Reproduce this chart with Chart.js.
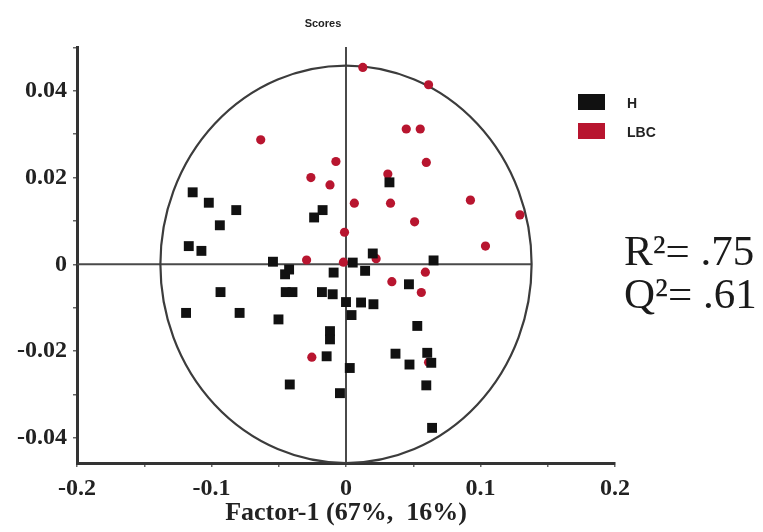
<!DOCTYPE html>
<html><head><meta charset="utf-8">
<script src="https://cdn.jsdelivr.net/npm/chart.js@4"></script>
<style>html,body{margin:0;padding:0;background:#fff}</style>
</head><body>
<canvas id="c" width="763" height="532"></canvas>
<script>
// ---- data ----
const seriesNames = ['H', 'LBC'];
const hX = [-0.1140,-0.1020,-0.0816,-0.0938,-0.1169,-0.1075,-0.0174,-0.0237,-0.0543,-0.0423,-0.0453,-0.0092,-0.0933,-0.0448,-0.0398,-0.0179,-0.0099,0.0000,0.0041,-0.1189,-0.0791,-0.0502,-0.0119,-0.0119,-0.0144,0.0028,-0.0418,-0.0045,0.0323,0.0199,0.0651,0.0050,0.0142,0.0468,0.0112,0.0204,0.0530,0.0368,0.0604,0.0472,0.0634,0.0597,0.0640];
const hY = [0.0166,0.0142,0.0125,0.0090,0.0042,0.0031,0.0125,0.0108,0.0006,-0.0012,-0.0023,-0.0019,-0.0064,-0.0064,-0.0064,-0.0064,-0.0069,-0.0087,-0.0117,-0.0112,-0.0112,-0.0127,-0.0154,-0.0173,-0.0212,-0.0239,-0.0277,-0.0297,0.0189,0.0025,0.0009,0.0004,-0.0015,-0.0046,-0.0088,-0.0092,-0.0142,-0.0206,-0.0204,-0.0231,-0.0227,-0.0279,-0.0377];
const lbcX = [-0.0634,-0.0075,-0.0261,-0.0119,-0.0011,-0.0293,-0.0019,0.0125,0.0614,0.0448,0.0552,0.0597,0.0311,0.0062,0.0331,0.0925,0.1293,0.0510,0.1037,0.0224,-0.0254,0.0590,0.0341,0.0560,0.0614];
const lbcY = [0.0287,0.0237,0.0200,0.0183,0.0074,0.0010,0.0005,0.0454,0.0414,0.0312,0.0312,0.0235,0.0208,0.0141,0.0141,0.0148,0.0114,0.0098,0.0042,0.0013,-0.0214,-0.0018,-0.0040,-0.0065,-0.0226];
const xTickLabels = ['-0.2', '-0.1', '0', '0.1', '0.2'];
const yTickLabels = ['-0.04', '-0.02', '0', '0.02', '0.04'];
const ellipseRadii = [0.138, 0.0458];   // Hotelling ellipse (x, y) in data units
const fitStats = ['R\u00B2= .75', 'Q\u00B2= .61'];
const chartTitle = 'Scores';
const xAxisTitle = 'Factor-1 (67%,  16%)';

// ---- build ----
const toPts = (xs, ys) => xs.map((x, i) => ({x: x, y: ys[i]}));
const serif = "'Liberation Serif','Times New Roman',serif";
const sans = "'Liberation Sans',Arial,sans-serif";
const RED = '#b8152f';
const BLACK = '#111111';

const refLines = {
  id: 'refLines',
  beforeDatasetsDraw(chart) {
    const {ctx, scales: {x, y}} = chart;
    ctx.save();
    ctx.strokeStyle = '#4a4a4a';
    ctx.lineWidth = 2;
    ctx.beginPath();
    ctx.moveTo(x.left, y.getPixelForValue(0));
    ctx.lineTo(x.getPixelForValue(ellipseRadii[0]), y.getPixelForValue(0));
    ctx.stroke();
    ctx.beginPath();
    ctx.moveTo(x.getPixelForValue(0), y.top);
    ctx.lineTo(x.getPixelForValue(0), y.bottom);
    ctx.stroke();
    const cx = x.getPixelForValue(0), cy = y.getPixelForValue(0);
    const rx = x.getPixelForValue(ellipseRadii[0]) - cx;
    const ry = cy - y.getPixelForValue(ellipseRadii[1]);
    ctx.strokeStyle = '#3c3c3c';
    ctx.lineWidth = 2.2;
    ctx.beginPath();
    ctx.ellipse(cx, cy, rx, ry, 0, 0, Math.PI * 2);
    ctx.stroke();
    ctx.restore();
  }
};

const extras = {
  id: 'extras',
  afterDraw(chart) {
    const ctx = chart.ctx;
    ctx.save();
    // title
    ctx.fillStyle = '#222';
    ctx.font = 'bold 11px ' + sans;
    ctx.textAlign = 'center';
    ctx.textBaseline = 'middle';
    ctx.fillText(chartTitle, 323, 24);
    // legend
    chart.data.datasets.forEach((ds, i) => {
      const top = 94 + i * 29;
      ctx.fillStyle = ds.backgroundColor;
      ctx.fillRect(578, top, 27, 16);
      ctx.fillStyle = '#222';
      ctx.font = 'bold 14px ' + sans;
      ctx.textBaseline = 'middle';
      ctx.textAlign = 'left';
      ctx.fillText(ds.label, 627, top + 10);
    });
    // fit statistics
    ctx.fillStyle = '#1a1a1a';
    ctx.font = '43px ' + serif;
    ctx.textBaseline = 'alphabetic';
    ctx.textAlign = 'left';
    ctx.fillText(fitStats[0], 624, 265);
    ctx.fillText(fitStats[1], 624, 308);
    ctx.restore();
  }
};

const findLabel = (list, v) => {
  const s = list.find(t => Math.abs(parseFloat(t) - v) < 1e-6);
  return s === undefined ? '' : s;
};

new Chart(document.getElementById('c'), {
  type: 'scatter',
  data: {
    datasets: [
      {label: seriesNames[0], data: toPts(hX, hY), backgroundColor: BLACK, borderColor: BLACK,
       borderWidth: 0, pointStyle: 'rect', pointRadius: 7, pointHoverRadius: 7},
      {label: seriesNames[1], data: toPts(lbcX, lbcY), backgroundColor: RED, borderColor: RED,
       borderWidth: 0, pointStyle: 'circle', pointRadius: 4.6, pointHoverRadius: 4.6}
    ]
  },
  options: {
    responsive: false,
    animation: false,
    layout: {padding: {left: 0, right: 148, top: 47, bottom: 0}},
    plugins: {
      legend: {display: false},
      tooltip: {enabled: false},
      title: {display: false}
    },
    scales: {
      x: {
        type: 'linear', min: -0.2, max: 0.2,
        border: {display: true, color: '#333', width: 3},
        grid: {drawOnChartArea: false, drawTicks: true, tickLength: 4, color: '#666', lineWidth: 1.5},
        ticks: {stepSize: 0.05, padding: 7, color: '#222', autoSkip: false, maxRotation: 0,
                font: {family: serif, size: 24, weight: 'bold'},
                callback: v => findLabel(xTickLabels, v)},
        title: {display: true, text: xAxisTitle, color: '#222',
                font: {family: serif, size: 26, weight: 'bold'}, padding: {top: 0, bottom: 3}},
        afterFit: s => { s.height = 69; }
      },
      y: {
        type: 'linear', min: -0.0458, max: 0.0501,
        border: {display: true, color: '#333', width: 3},
        grid: {drawOnChartArea: false, drawTicks: true, tickLength: 4, color: '#666', lineWidth: 1.5},
        ticks: {stepSize: 0.01, padding: 6, color: '#222', autoSkip: false, includeBounds: false,
                font: {family: serif, size: 24, weight: 'bold'},
                callback: v => findLabel(yTickLabels, v)},
        afterFit: s => { s.width = 77; }
      }
    }
  },
  plugins: [refLines, extras]
});
</script>
</body></html>
